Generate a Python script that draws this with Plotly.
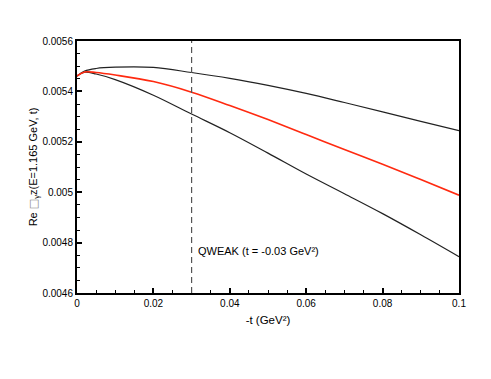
import plotly.graph_objects as go

# -t values (GeV^2)
t_vals = [0.0, 0.002, 0.005, 0.01, 0.02, 0.03, 0.04, 0.05, 0.06, 0.07, 0.08, 0.09, 0.1]

# Re box_gammaZ, upper band / central / lower band
upper = [0.005461, 0.005481, 0.005491, 0.005496, 0.005495, 0.005475, 0.005452,
         0.005424, 0.005392, 0.005356, 0.005319, 0.005281, 0.005244]
central = [0.005461, 0.005477, 0.005475, 0.005465, 0.005439, 0.005397, 0.005344,
           0.005288, 0.005229, 0.005169, 0.005111, 0.005050, 0.004988]
lower = [0.005461, 0.005476, 0.005469, 0.005447, 0.005385, 0.005310, 0.005236,
         0.005155, 0.005072, 0.004994, 0.004915, 0.004831, 0.004744]

x_ticks = [0, 0.02, 0.04, 0.06, 0.08, 0.1]
x_ticktext = ["0", "0.02", "0.04", "0.06", "0.08", "0.1"]
y_ticks = [0.0046, 0.0048, 0.005, 0.0052, 0.0054, 0.0056]
y_ticktext = ["0.0046", "0.0048", "0.005", "0.0052", "0.0054", "0.0056"]

qweak_t = 0.03
qweak_label = "QWEAK (t = -0.03 GeV²)"
qweak_label_y = 0.004766

font = "Liberation Sans, Arial, sans-serif"

fig = go.Figure()
fig.add_trace(go.Scatter(x=t_vals, y=upper, mode="lines", line=dict(color="#222222", width=1.2, shape="spline")))
fig.add_trace(go.Scatter(x=t_vals, y=lower, mode="lines", line=dict(color="#222222", width=1.2, shape="spline")))
fig.add_trace(go.Scatter(x=t_vals, y=central, mode="lines", line=dict(color="#ff2a10", width=1.6, shape="spline")))

# QWEAK marker line
fig.add_shape(type="line", xref="x", yref="paper", x0=qweak_t, x1=qweak_t, y0=0, y1=1,
              line=dict(color="#555555", width=1.2, dash="6px,4px"))
fig.add_annotation(x=qweak_t, y=qweak_label_y, xref="x", yref="y", text=qweak_label,
                   showarrow=False, xanchor="left", xshift=4,
                   font=dict(family=font, size=11, color="black"))

axis_common = dict(
    showline=True, linecolor="black", linewidth=2, mirror=True,
    ticks="inside", ticklen=5, tickwidth=1.5, tickcolor="black",
    showgrid=False, zeroline=False,
    tickfont=dict(family=font, size=10, color="black"),
)

y_title = ('Re <span style="font-family:DejaVu Sans;color:#888888">□</span>'
           '<sub>γ</sub>z(E=1.165 GeV, t)')

fig.update_xaxes(range=[0, 0.1], tickvals=x_ticks, ticktext=x_ticktext,
                 minor=dict(ticks="inside", ticklen=3, dtick=0.005, tickcolor="black", tickwidth=1),
                 title=dict(text="-t (GeV²)", font=dict(family=font, size=11.5, color="black"), standoff=8),
                 **axis_common)
fig.update_yaxes(range=[0.0046, 0.0056], tickvals=y_ticks, ticktext=y_ticktext,
                 minor=dict(ticks="inside", ticklen=3, dtick=0.00005, tickcolor="black", tickwidth=1),
                 title=dict(text=y_title, font=dict(family=font, size=11, color="black"), standoff=3),
                 **axis_common)

# page body adds an 8px offset, so margins are trimmed on the left/top
fig.update_layout(
    width=491, height=379,
    margin=dict(l=69, r=40, t=33, b=94),
    plot_bgcolor="white", paper_bgcolor="white",
    showlegend=False,
)

fig.write_html("out.html")
